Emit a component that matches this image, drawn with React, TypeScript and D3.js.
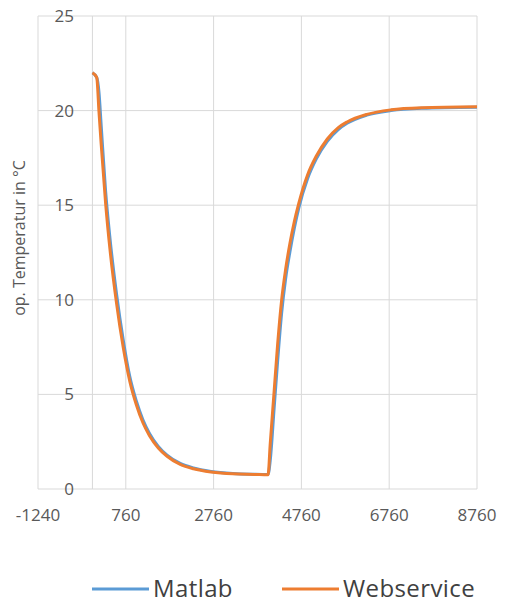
import React from "react";
import * as d3 from "d3";

const xTicks = [-1240, 760, 2760, 4760, 6760, 8760];
const yTicks = [0, 5, 10, 15, 20, 25];

const hours = [0, 97, 150, 200, 300, 400, 550, 700, 850, 1000, 1150, 1300, 1500, 1700, 2000, 2300, 2700, 3200, 3700, 3990, 4000, 4050, 4140, 4220, 4310, 4400, 4500, 4600, 4700, 4900, 5100, 5350, 5600, 5800, 6250, 6800, 7500, 8760];
const webserviceTemp = [22.0, 21.75, 19.9, 18.2, 15.1, 12.65, 9.8, 7.5, 5.7, 4.45, 3.5, 2.82, 2.17, 1.73, 1.3, 1.07, 0.9, 0.8, 0.77, 0.75, 0.75, 2.4, 5.2, 7.7, 10.0, 11.6, 13.0, 14.15, 15.1, 16.6, 17.6, 18.5, 19.1, 19.4, 19.8, 20.04, 20.15, 20.2];
const matlabTemp = [22.0, 21.75, 20.95, 19.2, 15.75, 13.25, 10.3, 7.9, 5.95, 4.65, 3.66, 2.94, 2.25, 1.79, 1.35, 1.11, 0.93, 0.82, 0.78, 0.77, 0.77, 1.5, 4.3, 6.8, 9.3, 11.1, 12.55, 13.8, 14.85, 16.4, 17.45, 18.38, 19.0, 19.33, 19.76, 20.0, 20.12, 20.18];

const seriesNames = ["Matlab", "Webservice"];
const seriesColors = ["#5B9BD5", "#ED7D31"];

export default function App() {
  const x = d3.scaleLinear().domain([-1240, 8760]).range([38, 477]);
  const y = d3.scaleLinear().domain([0, 25]).range([489, 16]);
  const line = d3
    .line<[number, number]>()
    .x((d) => x(d[0]))
    .y((d) => y(d[1]))
    .curve(d3.curveMonotoneX);
  const matData = hours.map((t, i) => [t, matlabTemp[i]] as [number, number]);
  const webData = hours.map((t, i) => [t, webserviceTemp[i]] as [number, number]);
  const font = "'Open Sans', sans-serif";
  const grid = "#d9d9d9";
  return (
    <svg
      width={510}
      height={604}
      style={{ position: "absolute", left: 0, top: 0, background: "#fff" }}
      fontFamily={font}
    >
      {yTicks.map((v) =>
        v === 0 ? null : (
          <line key={"gy" + v} x1={x(-1240)} x2={x(8760)} y1={y(v)} y2={y(v)} stroke={grid} strokeWidth={1} />
        )
      )}
      {xTicks.map((v) => (
        <line key={"gx" + v} x1={x(v)} x2={x(v)} y1={y(0)} y2={y(25)} stroke={grid} strokeWidth={1} />
      ))}
      <line x1={x(0)} x2={x(0)} y1={y(0)} y2={y(25)} stroke={grid} strokeWidth={1} />
      <line x1={x(-1240)} x2={x(8760)} y1={y(0)} y2={y(0)} stroke={grid} strokeWidth={1} />
      {yTicks.map((v) => (
        <text key={"ty" + v} x={74} y={y(v)} dy="0.35em" textAnchor="end" fontSize={17} fill="#595959">
          {v}
        </text>
      ))}
      {xTicks.map((v) => (
        <text key={"tx" + v} x={x(v)} y={521} textAnchor="middle" fontSize={17} fill="#595959">
          {v}
        </text>
      ))}
      <text
        transform="translate(25,238) rotate(-90)"
        textAnchor="middle"
        fontSize={16}
        fill="#595959"
      >
        op. Temperatur in °C
      </text>
      <path d={line(matData) || ""} fill="none" stroke={seriesColors[0]} strokeWidth={3} strokeLinejoin="round" />
      <path d={line(webData) || ""} fill="none" stroke={seriesColors[1]} strokeWidth={3} strokeLinejoin="round" />
      {seriesNames.map((name, i) => {
        const lx = i === 0 ? 92 : 282;
        return (
          <g key={name}>
            <line x1={lx} x2={lx + 57} y1={589} y2={589} stroke={seriesColors[i]} strokeWidth={3} />
            <text x={lx + 61} y={589} dy="0.35em" fontSize={24} letterSpacing={0.4} fill="#404040">
              {name}
            </text>
          </g>
        );
      })}
    </svg>
  );
}
